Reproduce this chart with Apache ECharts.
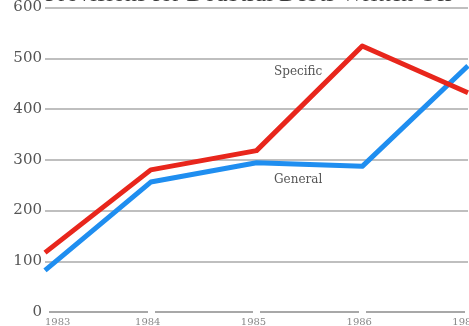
<!DOCTYPE html>
<html>
<head>
<meta charset="utf-8">
<script src="https://cdn.jsdelivr.net/npm/echarts@6/dist/echarts.min.js"></script>
<style>
  html, body { margin: 0; padding: 0; background: #fff; }
  #chart { width: 469px; height: 326px; }
</style>
</head>
<body>
<div id="chart"></div>
<script>
// Provisions for doubtful debts, 1983–1987
const years = ['1983', '1984', '1985', '1986', '1987'];
const specific = [117, 280, 318, 524, 432];
const general = [82, 256, 294, 287, 485];
const yTicks = [0, 100, 200, 300, 400, 500, 600];

const serif = '"Liberation Serif", "DejaVu Serif", serif';
const wideSerif = '"DejaVu Serif", "Liberation Serif", serif';
const chart = echarts.init(document.getElementById('chart'), null, { renderer: 'canvas' });

// white tick marks that break the baseline at each year
const gapTick = { show: true, length: 4, lineStyle: { color: '#ffffff', width: 7 } };

chart.setOption({
  animation: false,
  backgroundColor: '#ffffff',
  grid: { left: 45, right: 1, top: 7.5, bottom: 14, outerBoundsMode: 'none', containLabel: false },
  xAxis: [
    {
      type: 'category',
      data: years,
      boundaryGap: false,
      z: 5,
      axisLine: { show: true, lineStyle: { color: '#a8a8a8', width: 2 } },
      axisTick: Object.assign({ inside: false }, gapTick),
      axisLabel: {
        fontFamily: wideSerif, fontSize: 10, color: '#888', margin: 5,
        padding: [0, 6, 0, 0],
        alignMinLabel: 'left'
      },
      splitLine: { show: false }
    },
    {
      type: 'category',
      data: years,
      boundaryGap: false,
      position: 'bottom',
      z: 6,
      axisLine: { show: false },
      axisTick: Object.assign({ inside: true }, gapTick),
      axisLabel: { show: false },
      splitLine: { show: false }
    }
  ],
  yAxis: {
    type: 'value',
    min: yTicks[0],
    max: yTicks[yTicks.length - 1],
    interval: 100,
    z: 1,
    axisLine: { show: false },
    axisTick: { show: false },
    axisLabel: {
      fontFamily: wideSerif, fontSize: 15, color: '#555', margin: 3,
      formatter: v => (yTicks.includes(v) ? String(v) : '')
    },
    splitLine: { show: true, lineStyle: { color: '#aaaaaa', width: 1.5 } }
  },
  series: [
    {
      name: 'Specific',
      type: 'line',
      data: specific,
      symbol: 'none',
      lineStyle: { color: '#e8261c', width: 5, join: 'round' },
      z: 3
    },
    {
      name: 'General',
      type: 'line',
      data: general,
      symbol: 'none',
      lineStyle: { color: '#1f8ef0', width: 5, join: 'round' },
      z: 2
    }
  ],
  graphic: [
    {
      type: 'text', left: 45, top: -17,
      style: { text: 'Provisions for Doubtful Debts Written Off', font: '24px ' + serif, fill: '#3a3a3a' }
    },
    {
      type: 'text', left: 274, top: 66,
      style: { text: 'Specific', font: '12px ' + wideSerif, fill: '#555' }
    },
    {
      type: 'text', left: 274, top: 174,
      style: { text: 'General', font: '12px ' + wideSerif, fill: '#555' }
    }
  ]
});
</script>
</body>
</html>
